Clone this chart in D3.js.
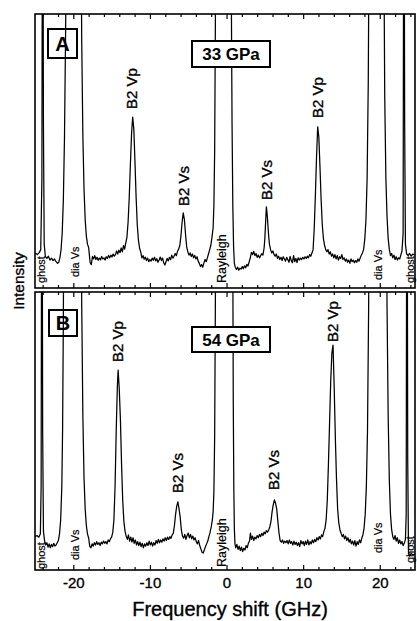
<!DOCTYPE html>
<html>
<head>
<meta charset="utf-8">
<script src="https://cdn.jsdelivr.net/npm/d3@7"></script>
<style>
  html, body { margin: 0; padding: 0; background: #fff; }
  svg { display: block; font-family: "Liberation Sans", Arial, sans-serif; }
  text.plain { stroke: #000; stroke-width: 0.35px; }
</style>
</head>
<body>
<svg id="chart" width="417" height="621"></svg>
<script>
// Brillouin spectra: frequency shift (GHz) vs intensity (arb. units)
const spectrumA = [
  [-25.0, 12.8], [-24.7, 12.2], [-24.45, 12.9], [-24.25, 14], [-24.1, 40], [-24.0, 200], [-23.9, 60], [-23.8, 16],
  [-23.65, 11.5], [-23.45, 10.8], [-23.25, 11.6], [-23.05, 10.2], [-22.85, 10.9], [-22.65, 10.0], [-22.45, 10.6],
  [-22.25, 9.6], [-22.05, 9.0], [-21.9, 9.4], [-21.75, 11], [-21.6, 14], [-21.45, 20], [-21.3, 32], [-21.15, 55],
  [-21.0, 95], [-20.85, 150], [-20.5, 300], [-19.4, 300], [-19.05, 150], [-18.9, 90], [-18.75, 55], [-18.6, 36],
  [-18.45, 25], [-18.3, 19], [-18.15, 16], [-18.0, 14.8], [-17.9, 12], [-17.8, 9.2], [-17.65, 8.5], [-17.5, 11.5],
  [-17.35, 10.6], [-17.2, 11.8], [-17.05, 10.4], [-16.9, 11.2], [-16.75, 10.1], [-16.6, 10.9], [-16.45, 10.3],
  [-16.3, 11.5], [-16.15, 10.6], [-16.0, 11.0], [-15.85, 10.2], [-15.7, 11.4], [-15.55, 10.8], [-15.4, 11.9],
  [-15.25, 11.0], [-15.1, 12.0], [-14.95, 11.3], [-14.8, 12.4], [-14.65, 11.6], [-14.5, 12.2], [-14.35, 13.5],
  [-14.2, 12.4], [-14.05, 13.8], [-13.9, 12.9], [-13.75, 14.6], [-13.6, 13.2], [-13.45, 15.5], [-13.3, 14.2],
  [-13.15, 16.5], [-13.0, 18.5], [-12.85, 24], [-12.7, 33], [-12.55, 45], [-12.4, 56], [-12.25, 62.4], [-12.1, 58],
  [-11.95, 46], [-11.8, 33], [-11.65, 23], [-11.5, 17.5], [-11.35, 14.5], [-11.2, 13.2], [-11.05, 11.0], [-10.9, 11.8],
  [-10.75, 10.5], [-10.6, 11.3], [-10.45, 10.0], [-10.3, 10.9], [-10.15, 9.6], [-10.0, 10.4], [-9.85, 9.8], [-9.7, 10.9],
  [-9.55, 10.1], [-9.4, 11.2], [-9.25, 9.9], [-9.1, 10.7], [-8.95, 9.4], [-8.8, 10.2], [-8.65, 11.3], [-8.5, 10.0],
  [-8.35, 10.9], [-8.2, 9.2], [-8.05, 8.4], [-7.9, 9.6], [-7.75, 10.8], [-7.6, 9.9], [-7.45, 11.2], [-7.3, 10.3],
  [-7.15, 12.0], [-7.0, 10.9], [-6.85, 11.6], [-6.7, 12.6], [-6.55, 11.8], [-6.4, 13.4], [-6.25, 14.2], [-6.1, 15.5],
  [-5.95, 19], [-5.8, 24], [-5.65, 27.4], [-5.5, 25], [-5.35, 19.5], [-5.2, 15], [-5.05, 13.2], [-4.9, 12.0],
  [-4.75, 12.8], [-4.6, 11.5], [-4.45, 12.4], [-4.3, 11.0], [-4.15, 11.9], [-4.0, 10.6], [-3.85, 11.4], [-3.7, 9.8],
  [-3.55, 9.0], [-3.4, 7.8], [-3.25, 8.6], [-3.1, 7.6], [-2.95, 9.2], [-2.8, 10.4], [-2.65, 9.6], [-2.5, 11.0],
  [-2.35, 12.5], [-2.2, 14.0], [-2.05, 15.5], [-1.9, 18.5], [-1.75, 22], [-1.65, 30], [-1.55, 50], [-1.45, 100],
  [-1.35, 200], [-0.5, 400], [0.5, 200], [0.62, 110], [0.72, 60], [0.82, 30], [0.92, 15], [1.02, 9.0], [1.15, 7.5],
  [1.3, 6.8], [1.45, 7.6], [1.6, 6.5], [1.75, 7.2], [1.9, 6.9], [2.05, 7.8], [2.2, 7.0], [2.35, 8.1], [2.5, 7.4],
  [2.65, 8.6], [2.8, 8.0], [2.95, 9.5], [3.1, 11.0], [3.25, 13.0], [3.4, 12.2], [3.55, 13.4], [3.7, 11.8], [3.85, 12.6],
  [4.0, 11.2], [4.15, 12.0], [4.3, 11.0], [4.45, 11.8], [4.6, 12.5], [4.75, 12.0], [4.9, 14.5], [5.0, 18], [5.1, 24],
  [5.2, 29.6], [5.3, 27], [5.4, 23], [5.5, 19], [5.6, 16], [5.75, 14], [5.9, 12.8], [6.05, 13.5], [6.2, 12.2],
  [6.35, 11.6], [6.5, 12.4], [6.65, 10.8], [6.8, 11.6], [6.95, 10.4], [7.1, 11.2], [7.25, 10.0], [7.4, 11.4],
  [7.55, 10.6], [7.7, 9.8], [7.85, 11.2], [8.0, 10.3], [8.15, 9.4], [8.3, 11.5], [8.45, 10.0], [8.6, 9.2], [8.75, 11.8],
  [8.9, 9.6], [9.05, 10.8], [9.2, 9.3], [9.35, 11.0], [9.5, 10.2], [9.65, 10.9], [9.8, 10.4], [9.95, 11.2], [10.1, 10.6],
  [10.25, 11.4], [10.4, 10.8], [10.55, 11.6], [10.7, 11.0], [10.85, 12.2], [11.0, 11.6], [11.15, 12.8], [11.3, 14],
  [11.45, 22], [11.6, 34], [11.75, 48], [11.9, 58.8], [12.05, 55], [12.2, 44], [12.35, 32], [12.5, 23], [12.65, 18],
  [12.8, 15.5], [12.95, 14], [13.1, 13.2], [13.25, 14.0], [13.4, 12.4], [13.55, 13.2], [13.7, 11.6], [13.85, 12.4],
  [14.0, 11.0], [14.15, 12.2], [14.3, 10.6], [14.45, 11.8], [14.6, 10.2], [14.75, 11.4], [14.9, 10.8], [15.05, 12.2],
  [15.2, 10.4], [15.35, 11.0], [15.5, 9.8], [15.65, 10.6], [15.8, 9.4], [15.95, 10.2], [16.1, 9.0], [16.25, 10.6],
  [16.4, 9.6], [16.55, 10.2], [16.7, 9.2], [16.85, 10.0], [17.0, 9.4], [17.15, 10.6], [17.3, 9.8], [17.45, 11.0],
  [17.6, 12.0], [17.75, 12.8], [17.9, 14.2], [18.05, 18], [18.2, 25], [18.35, 40], [18.5, 75], [18.65, 150],
  [19.0, 350], [20.2, 350], [20.5, 140], [20.65, 70], [20.8, 40], [20.95, 26], [21.1, 18], [21.25, 14], [21.4, 11.8],
  [21.55, 12.6], [21.7, 11.0], [21.85, 12.0], [22.0, 10.4], [22.15, 11.4], [22.3, 10.2], [22.45, 11.0], [22.6, 10.6],
  [22.75, 12.0], [22.9, 13.5], [23.05, 20], [23.15, 200], [23.25, 60], [23.35, 16], [23.5, 12.5], [23.7, 11.8],
  [23.9, 12.6], [24.1, 11.6], [24.3, 12.4], [24.6, 12.0]
];

const spectrumB = [
  [-25.0, 12.0], [-24.75, 12.4], [-24.5, 11.8], [-24.3, 13], [-24.2, 30], [-24.1, 200], [-24.0, 50], [-23.9, 14],
  [-23.75, 10.5], [-23.6, 9.0], [-23.45, 9.8], [-23.3, 8.2], [-23.15, 9.4], [-23.0, 8.0], [-22.85, 9.2], [-22.7, 8.4],
  [-22.55, 9.6], [-22.4, 8.6], [-22.25, 9.0], [-22.1, 9.8], [-21.95, 10.6], [-21.8, 13], [-21.65, 18], [-21.5, 30],
  [-21.4, 50], [-21.3, 90], [-21.2, 160], [-20.8, 400], [-19.3, 400], [-19.05, 160], [-18.9, 95], [-18.75, 55],
  [-18.6, 33], [-18.45, 22], [-18.3, 16], [-18.15, 13.0], [-18.0, 11.5], [-17.85, 8.5], [-17.7, 8.0], [-17.55, 9.4],
  [-17.4, 8.6], [-17.25, 9.8], [-17.1, 9.0], [-16.95, 10.2], [-16.8, 9.2], [-16.65, 9.8], [-16.5, 8.8], [-16.35, 10.0],
  [-16.2, 9.4], [-16.05, 10.4], [-15.9, 9.6], [-15.75, 10.2], [-15.6, 9.4], [-15.45, 10.8], [-15.3, 10.2],
  [-15.15, 11.2], [-15.0, 11.8], [-14.85, 13.5], [-14.7, 18], [-14.55, 30], [-14.4, 50], [-14.25, 66], [-14.15, 71.9],
  [-14.0, 65], [-13.85, 54], [-13.7, 38], [-13.55, 25], [-13.4, 17.5], [-13.25, 14], [-13.1, 12.2], [-12.95, 11.0],
  [-12.8, 12.6], [-12.65, 10.4], [-12.5, 11.8], [-12.35, 10.0], [-12.2, 11.6], [-12.05, 9.6], [-11.9, 10.8],
  [-11.75, 9.0], [-11.6, 10.2], [-11.45, 8.8], [-11.3, 10.0], [-11.15, 8.4], [-11.0, 9.6], [-10.85, 8.0], [-10.7, 9.4],
  [-10.55, 8.6], [-10.4, 9.8], [-10.25, 8.8], [-10.1, 10.4], [-9.95, 9.0], [-9.8, 10.0], [-9.65, 8.6], [-9.5, 9.8],
  [-9.35, 9.0], [-9.2, 10.6], [-9.05, 9.6], [-8.9, 11.0], [-8.75, 9.8], [-8.6, 10.8], [-8.45, 10.0], [-8.3, 11.2],
  [-8.15, 10.4], [-8.0, 11.6], [-7.85, 10.6], [-7.7, 11.8], [-7.55, 11.0], [-7.4, 12.0], [-7.25, 11.4], [-7.1, 12.6],
  [-6.95, 13.2], [-6.8, 16], [-6.65, 20], [-6.5, 23], [-6.35, 24.5], [-6.2, 22], [-6.05, 19], [-5.9, 14.5],
  [-5.75, 12.2], [-5.6, 11.4], [-5.45, 12.8], [-5.3, 11.0], [-5.15, 12.4], [-5.0, 13.3], [-4.85, 11.6], [-4.7, 12.8],
  [-4.55, 11.2], [-4.4, 12.2], [-4.25, 10.8], [-4.1, 11.6], [-3.95, 10.2], [-3.8, 9.4], [-3.65, 10.6], [-3.5, 8.8],
  [-3.35, 7.6], [-3.2, 6.4], [-3.05, 6.1], [-2.9, 7.2], [-2.75, 8.4], [-2.6, 9.4], [-2.45, 10.4], [-2.3, 12.0],
  [-2.15, 13.5], [-2.0, 15.5], [-1.85, 18], [-1.75, 21], [-1.65, 28], [-1.55, 48], [-1.45, 100], [-1.35, 200],
  [-0.5, 400], [0.5, 300], [0.8, 130], [0.88, 60], [0.95, 30], [1.02, 15], [1.1, 9.4], [1.2, 8.0], [1.35, 9.2],
  [1.5, 7.4], [1.65, 8.6], [1.8, 7.0], [1.95, 8.2], [2.1, 6.6], [2.25, 7.8], [2.4, 7.2], [2.55, 8.8], [2.7, 8.0],
  [2.85, 9.6], [3.0, 10.4], [3.12, 13.3], [3.25, 11.0], [3.4, 12.2], [3.55, 10.6], [3.7, 11.8], [3.85, 11.2],
  [4.0, 12.4], [4.15, 11.6], [4.3, 12.8], [4.45, 12.0], [4.6, 13.2], [4.75, 12.4], [4.9, 13.6], [5.05, 13.0],
  [5.2, 14.2], [5.35, 13.6], [5.5, 14.4], [5.65, 15.5], [5.8, 17.5], [5.95, 21], [6.1, 23.5], [6.25, 25.2], [6.4, 24],
  [6.55, 22], [6.7, 17.5], [6.85, 13.3], [7.0, 10.6], [7.15, 10.0], [7.3, 10.8], [7.45, 9.6], [7.6, 10.4], [7.75, 9.8],
  [7.9, 10.6], [8.05, 9.4], [8.2, 10.8], [8.35, 9.6], [8.5, 10.2], [8.65, 9.0], [8.8, 10.4], [8.95, 9.2], [9.1, 10.0],
  [9.25, 8.8], [9.4, 9.8], [9.55, 8.4], [9.7, 10.6], [9.85, 9.4], [10.0, 10.2], [10.15, 8.8], [10.3, 10.4],
  [10.45, 9.2], [10.6, 10.8], [10.75, 9.0], [10.9, 10.2], [11.05, 9.4], [11.2, 10.8], [11.35, 9.8], [11.5, 11.0],
  [11.65, 10.2], [11.8, 11.6], [11.95, 10.8], [12.1, 12.0], [12.25, 11.2], [12.4, 12.6], [12.55, 12.0], [12.7, 13.8],
  [12.85, 15], [13.0, 18], [13.15, 25], [13.3, 38], [13.45, 53], [13.6, 68], [13.75, 78], [13.9, 80.9], [14.05, 66],
  [14.2, 48], [14.35, 33], [14.5, 22], [14.65, 17], [14.8, 14.5], [14.95, 13.2], [15.1, 12.0], [15.25, 12.8],
  [15.4, 11.2], [15.55, 12.2], [15.7, 10.6], [15.85, 11.6], [16.0, 10.0], [16.15, 11.0], [16.3, 9.4], [16.45, 10.4],
  [16.6, 9.0], [16.75, 10.6], [16.9, 8.6], [17.05, 10.2], [17.2, 9.2], [17.35, 10.8], [17.5, 9.8], [17.65, 11.4],
  [17.8, 12.6], [17.95, 15], [18.1, 20], [18.25, 30], [18.4, 50], [18.55, 95], [18.7, 180], [19.0, 400], [20.5, 400],
  [20.8, 160], [20.95, 95], [21.1, 55], [21.25, 32], [21.4, 20], [21.55, 14.5], [21.7, 12.0], [21.85, 11.0],
  [22.0, 12.4], [22.15, 10.4], [22.3, 11.6], [22.45, 9.6], [22.6, 10.8], [22.75, 9.4], [22.9, 10.2], [23.05, 8.8],
  [23.2, 9.6], [23.35, 11], [23.45, 20], [23.55, 200], [23.65, 40], [23.75, 6.5], [23.9, 5.0], [24.1, 6.0],
  [24.3, 5.4], [24.6, 5.8]
];

const majorTicks = [-20, -10, 0, 10, 20];
const minorTicks = [-24, -22, -18, -16, -14, -12, -8, -6, -4, -2, 2, 4, 6, 8, 12, 14, 16, 18, 22, 24];

// Peak annotations: [text, frequency shift, intensity at label start]
const peakLabelsA = [
  ["B2 Vp", -12.35, 65.3], ["B2 Vs", -5.55, 29.9], ["B2 Vp", 12.0, 62.0], ["B2 Vs", 5.25, 32.1]
];
const peakLabelsB = [
  ["B2 Vp", -14.2, 74.8], ["B2 Vs", -6.4, 27.7], ["B2 Vp", 13.9, 82.0], ["B2 Vs", 6.25, 28.8]
];
const lineLabels = [["ghost", -24.2], ["dia Vs", -19.8], ["Rayleigh", -0.6], ["dia Vs", 19.8], ["ghost", 23.95]];

const pressures = ["33 GPa", "54 GPa"];
const panelNames = ["A", "B"];

const svg = d3.select("#chart");
const x = d3.scaleLinear().domain([-25, 24.6]).range([35, 415]);

const panels = [
  { name: panelNames[0], pressure: pressures[0], data: spectrumA, peaks: peakLabelsA, top: 14, bottom: 288,
    lineLabelBottoms: [283, 277, 283, 280, 283], letterBox: [48, 29, 29, 29], gpaBox: [192, 41, 78, 26] },
  { name: panelNames[1], pressure: pressures[1], data: spectrumB, peaks: peakLabelsB, top: 292, bottom: 570,
    lineLabelBottoms: [569, 560, 567, 553, 563], letterBox: [49, 310, 28, 26], gpaBox: [192, 327, 78, 25] }
];

panels.forEach((p, i) => {
  const y = d3.scaleLinear().domain([0, 100]).range([p.bottom, p.top]);
  const g = svg.append("g");
  const clipId = "clip" + i;
  svg.append("clipPath").attr("id", clipId)
    .append("rect").attr("x", x.range()[0]).attr("y", p.top)
    .attr("width", x.range()[1] - x.range()[0]).attr("height", p.bottom - p.top);

  // spectrum trace
  g.append("path")
    .datum(p.data)
    .attr("clip-path", `url(#${clipId})`)
    .attr("fill", "none")
    .attr("stroke", "#000")
    .attr("stroke-width", 1.25)
    .attr("stroke-linejoin", "round")
    .attr("d", d3.line().x(d => x(d[0])).y(d => y(d[1])));

  // inward ticks on top and bottom edges
  const addTicks = (values, size) => {
    const labelled = i === 1 && size === 5;
    const bottomAxis = d3.axisBottom(x).tickValues(values).tickSizeInner(-size).tickSizeOuter(0).tickPadding(7);
    const ga = g.append("g").attr("transform", `translate(0,${p.bottom})`).call(bottomAxis);
    ga.select(".domain").remove();
    ga.selectAll("line").attr("stroke-width", 1.2);
    ga.selectAll("text").attr("class", "plain").attr("font-size", 15)
      .attr("font-family", "Liberation Sans, Arial, sans-serif")
      .attr("fill", "#000").text(d => labelled ? (d < 0 ? "-" + Math.abs(d) : d) : "");
    const topAxis = d3.axisTop(x).tickValues(values).tickSizeInner(-size).tickSizeOuter(0).tickFormat("");
    const gt = g.append("g").attr("transform", `translate(0,${p.top})`).call(topAxis);
    gt.select(".domain").remove();
    gt.selectAll("line").attr("stroke-width", 1.2);
  };
  addTicks(majorTicks, 5);
  addTicks(minorTicks, 3);

  // frame
  g.append("rect")
    .attr("x", x.range()[0]).attr("y", p.top)
    .attr("width", x.range()[1] - x.range()[0]).attr("height", p.bottom - p.top)
    .attr("fill", "none").attr("stroke", "#000").attr("stroke-width", 1.6);

  // peak labels (rotated)
  p.peaks.forEach(([t, f, v]) => {
    g.append("text").attr("class", "plain")
      .attr("transform", `translate(${x(f) + 5},${y(v)}) rotate(-90)`)
      .attr("font-size", 15).attr("fill", "#000")
      .text(t);
  });

  // labels for off-scale lines, written along the panel bottom
  lineLabels.forEach(([t, f], k) => {
    const fs = t === "Rayleigh" ? 12.5 : 11;
    g.append("text").attr("class", "plain")
      .attr("transform", `translate(${x(f) + 4},${p.lineLabelBottoms[k]}) rotate(-90)`)
      .attr("font-size", fs).attr("fill", "#000")
      .style("stroke-width", "0.2px")
      .text(t);
  });

  // panel letter box
  const [lx, ly, lw, lh] = p.letterBox;
  g.append("rect").attr("x", lx).attr("y", ly).attr("width", lw).attr("height", lh)
    .attr("fill", "none").attr("stroke", "#000").attr("stroke-width", 2);
  g.append("text").attr("x", lx + lw / 2).attr("y", ly + lh / 2 + 7)
    .attr("text-anchor", "middle").attr("font-size", 20).attr("font-weight", "bold").text(p.name);

  // pressure box
  const [bx, by, bw, bh] = p.gpaBox;
  g.append("rect").attr("x", bx).attr("y", by).attr("width", bw).attr("height", bh)
    .attr("fill", "#fff").attr("stroke", "#000").attr("stroke-width", 2);
  g.append("text").attr("x", bx + bw / 2).attr("y", by + bh / 2 + 6)
    .attr("text-anchor", "middle").attr("font-size", 17).attr("font-weight", "bold").text(p.pressure);
});

// axis titles
svg.append("text").attr("class", "plain")
  .attr("x", 230).attr("y", 616)
  .attr("text-anchor", "middle").attr("font-size", 20).attr("fill", "#000")
  .text("Frequency shift (GHz)");
svg.append("text").attr("class", "plain")
  .attr("transform", "translate(24,281) rotate(-90)")
  .attr("text-anchor", "middle").attr("font-size", 15.5).attr("fill", "#000")
  .text("Intensity");
</script>
</body>
</html>
